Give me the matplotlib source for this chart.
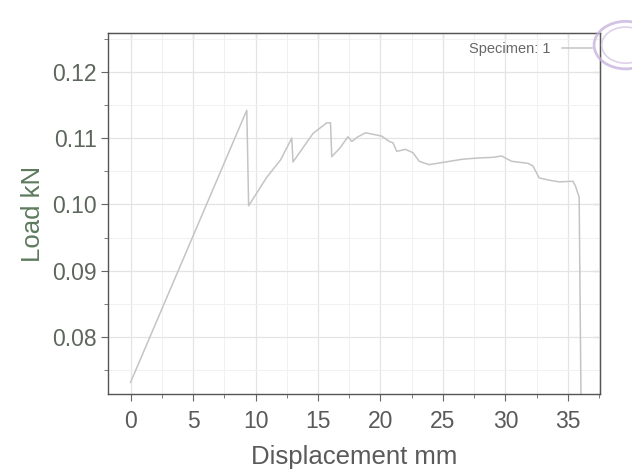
import matplotlib
matplotlib.use("Agg")
import matplotlib.pyplot as plt
from matplotlib.ticker import MultipleLocator
from matplotlib.patches import Circle

# Data (Displacement mm, Load kN)
displacement = [0.0, 9.30, 9.45, 10.9, 12.0, 12.9, 13.0, 14.6, 15.7, 16.0, 16.1,
                16.75, 17.4, 17.7, 18.2, 18.8, 19.6, 20.1, 20.7, 21.0, 21.3,
                22.0, 22.6, 23.1, 23.9, 25.2, 26.5, 27.8, 29.0, 29.7, 30.5,
                31.8, 32.2, 32.7, 33.4, 34.3, 35.4, 35.6, 35.9, 36.05]
load = [0.0732, 0.1142, 0.0998, 0.1041, 0.1067, 0.1100, 0.1064, 0.1107, 0.1123,
        0.1123, 0.1072, 0.1085, 0.1102, 0.1095, 0.1102, 0.1108, 0.1105, 0.1103,
        0.1095, 0.1093, 0.1080, 0.1083, 0.1078, 0.1065, 0.1060, 0.1064, 0.1068,
        0.1070, 0.1071, 0.1073, 0.1065, 0.1062, 0.1058, 0.1040, 0.1037, 0.1034,
        0.1035, 0.1028, 0.1011, 0.0700]
series_label = "Specimen: 1"
x_ticks = [0, 5, 10, 15, 20, 25, 30, 35]
y_ticks = [0.08, 0.09, 0.10, 0.11, 0.12]

plt.rcParams['font.family'] = ['Liberation Sans', 'DejaVu Sans']

fig = plt.figure(figsize=(6.32, 4.75), dpi=100)
ax = fig.add_axes([0.171, 0.17, 0.779, 0.76])

ax.plot(displacement, load, color='#c4c4c4', lw=1.1, label=series_label)

ax.set_xlim(-1.8, 37.6)
ax.set_ylim(0.0714, 0.1258)
ax.set_xticks(x_ticks)
ax.set_yticks(y_ticks)
ax.set_yticklabels([f"{v:.2f}" for v in y_ticks])
ax.xaxis.set_minor_locator(MultipleLocator(2.5))
ax.yaxis.set_minor_locator(MultipleLocator(0.005))

ax.grid(True, which='major', color='#e4e4e4', lw=0.9)
ax.grid(True, which='minor', color='#f1f1f1', lw=0.7)

for s in ax.spines.values():
    s.set_color('#555555')
    s.set_linewidth(1.0)

ax.tick_params(axis='both', which='both', colors='#666666')
ax.tick_params(axis='x', which='major', direction='out', length=5, labelsize=16.5,
               labelcolor='#5a5a5a', pad=6)
ax.tick_params(axis='y', which='major', direction='out', length=5, labelsize=16.5,
               labelcolor='#5d665d', pad=3)
ax.tick_params(axis='both', which='minor', direction='out', length=3)

# inward ticks on the top and right spines
axt = ax.secondary_xaxis('top')
axt.set_xticks(x_ticks)
axt.xaxis.set_minor_locator(MultipleLocator(2.5))
axt.tick_params(which='major', direction='in', length=5, labeltop=False, colors='#666666')
axt.tick_params(which='minor', direction='in', length=3, colors='#666666')
axt.spines['top'].set_color('#555555')
axr = ax.secondary_yaxis('right')
axr.set_yticks(y_ticks)
axr.yaxis.set_minor_locator(MultipleLocator(0.005))
axr.tick_params(which='major', direction='in', length=5, labelright=False, colors='#666666')
axr.tick_params(which='minor', direction='in', length=3, colors='#666666')
axr.spines['right'].set_color('#555555')

ax.set_xlabel("Displacement mm", fontsize=18.5, color='#5a5a5a', labelpad=9)
ax.set_ylabel("Load kN", fontsize=18.5, color='#5d7a5d', labelpad=5)

leg = ax.legend(loc='upper right', frameon=False, fontsize=10.5, handlelength=2.0,
                handletextpad=0.8, borderaxespad=0.0, borderpad=0.6,
                markerfirst=False, labelcolor='#666666')

# faint stamp at the top-right corner of the scan
fig.patches.append(Circle((0.99, 0.905), 0.05, transform=fig.transFigure,
                          facecolor='none', edgecolor='#c9b3dd', lw=2.0, alpha=0.8))
fig.patches.append(Circle((0.99, 0.905), 0.038, transform=fig.transFigure,
                          facecolor='none', edgecolor='#d6c6e6', lw=1.2, alpha=0.8))

fig.savefig("out.png", dpi=100)
